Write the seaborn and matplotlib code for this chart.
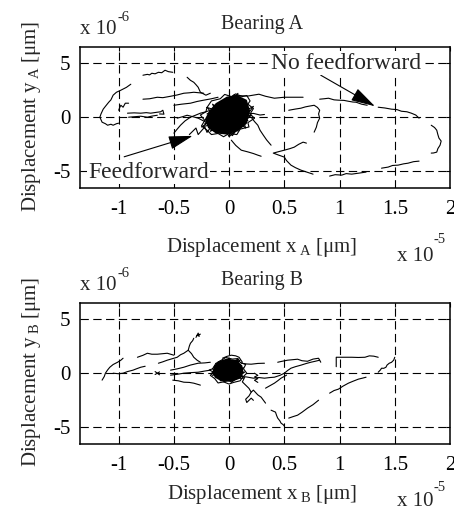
import matplotlib
matplotlib.use("Agg")
import matplotlib.pyplot as plt
import seaborn as sns
import pandas as pd

# ---------------- data (x in 1e-5, y in 1e-6) ----------------
x_ticks = [-1, -0.5, 0, 0.5, 1, 1.5, 2]
x_tick_labels = ["-1", "-0.5", "0", "0.5", "1", "1.5", "2"]
y_ticks = [-5, 0, 5]
y_tick_labels = ["-5", "0", "5"]

# Bearing A, no feedforward trace segments
bearing_a_trace = [
    [(-0.78,3.87),(-0.74,3.95),(-0.72,3.9),(-0.70,4.05),(-0.67,4.0),(-0.64,4.14),(-0.61,4.1),(-0.58,4.33),(-0.55,4.2),(-0.51,4.14)],
    [(-0.89,3.04),(-0.93,2.75),(-0.98,2.49),(-1.02,2.3),(-1.05,2.03),(-1.07,1.6),(-1.09,1.38),(-1.12,1.0),(-1.14,0.74),(-1.16,0.3),(-1.17,0.0),(-1.15,-0.46),(-1.12,-0.6),(-1.10,-0.74),(-1.07,-0.65),(-1.05,-0.74),(-1.02,-0.6),(-1.00,-0.55)],
    [(-1.0,0.64),(-0.99,0.9),(-0.98,1.1),(-0.96,0.92),(-0.94,1.29),(-0.91,1.29)],
    [(-0.92,0.37),(-0.86,0.4),(-0.80,0.37),(-0.75,0.42),(-0.71,0.37),(-0.65,0.46),(-0.62,0.5),(-0.60,0.64),(-0.59,0.28),(-0.63,0.3)],
    [(-0.91,0.0),(-0.85,0.05),(-0.80,0.09),(-0.74,0.0),(-0.70,0.1),(-0.65,0.18)],
    [(-0.78,1.66),(-0.72,1.7),(-0.65,1.84),(-0.60,1.8),(-0.53,1.93),(-0.47,2.05),(-0.41,2.21),(-0.36,2.25),(-0.32,2.30),(-0.23,2.21)],
    [(-0.38,3.68),(-0.35,3.4),(-0.32,3.22),(-0.30,3.0),(-0.28,2.76),(-0.26,2.30),(-0.21,2.03),(-0.17,2.21)],
    [(0.05,2.0),(0.17,1.95),(0.27,2.12),(0.33,1.93),(0.41,1.75),(0.50,1.84),(0.58,1.84),(0.67,1.84)],
    [(0.82,1.66),(0.86,1.7),(0.90,1.75),(0.95,1.6),(0.99,1.57),(1.04,1.55),(1.08,1.47),(1.12,1.4),(1.15,1.38),(1.2,1.2),(1.25,1.1)],
    [(1.35,0.92),(1.41,0.85),(1.47,0.74),(1.52,0.7),(1.56,0.55),(1.61,0.5),(1.65,0.37),(1.69,0.2),(1.72,-0.09)],
    [(1.83,-0.74),(1.86,-0.95),(1.88,-1.2),(1.89,-1.6),(1.90,-1.93),(1.92,-2.2),(1.91,-2.58),(1.89,-2.9),(1.88,-3.22),(1.85,-3.3),(1.83,-3.31)],
    [(1.72,-4.05),(1.67,-4.1),(1.62,-4.24),(1.58,-4.3),(1.53,-4.42),(1.48,-4.45),(1.44,-4.60),(1.41,-4.65),(1.38,-4.70)],
    [(1.24,-5.06),(1.18,-5.15),(1.11,-5.25),(1.06,-5.2),(1.02,-5.34),(0.96,-5.3),(0.91,-5.43)],
    [(0.76,-5.25),(0.70,-5.05),(0.65,-4.88),(0.60,-4.65),(0.56,-4.42),(0.52,-4.0),(0.50,-3.68),(0.45,-3.5),(0.40,-3.31),(0.44,-3.2),(0.50,-3.04),(0.55,-2.9),(0.59,-2.76),(0.63,-2.5),(0.67,-2.30),(0.70,-2.39)],
    [(0.54,0.64),(0.60,0.75),(0.65,0.83),(0.69,0.95),(0.72,1.01),(0.77,1.1),(0.80,0.9),(0.82,0.64),(0.81,0.3),(0.82,-0.09),(0.80,-0.5),(0.79,-0.92),(0.77,-1.38)],
    [(0.15,0.05),(0.20,0.0),(0.23,-0.4),(0.26,-0.74),(0.28,-1.2),(0.31,-1.66),(0.34,-2.1),(0.38,-2.58)],
    [(0.02,-2.12),(0.06,-2.6),(0.11,-3.04),(0.17,-3.2),(0.22,-3.35),(0.26,-3.5),(0.29,-3.6)],
    [(-0.50,1.1),(-0.43,1.2),(-0.35,1.29),(-0.29,1.45),(-0.23,1.57),(-0.16,1.7),(-0.10,1.84)],
    [(-0.50,-1.47),(-0.47,-1.1),(-0.44,-0.74),(-0.40,-0.35),(-0.35,0.0),(-0.30,0.2),(-0.26,0.37),(-0.21,0.5),(-0.17,0.64)],
    [(-0.47,-0.09),(-0.42,0.05),(-0.38,0.18),(-0.33,0.05),(-0.28,-0.09),(-0.24,-0.3),(-0.19,-0.55)],
    [(0.15,0.3),(0.22,0.35),(0.28,0.2),(0.32,0.25)],
    [(0.0,2.6),(0.0,1.75)],
]
# Bearing A, feedforward (dense central cluster)
bearing_a_blob_outline = [(-0.12,1.3),(-0.02,1.9),(0.08,2.0),(0.16,1.6),(0.19,0.6),(0.16,-0.6),(0.08,-1.3),(-0.02,-1.6),(-0.12,-1.5),(-0.19,-1.0),(-0.22,-0.2),(-0.18,0.6)]
bearing_a_blob_scribble = [
    [(-0.2,0.3),(0.1,1.9),(-0.1,-1.2),(0.18,0.8),(-0.22,-0.6),(0.05,2.1),(0.15,-1.0),(-0.15,1.2),(0.0,-1.8),(0.2,0.2),(-0.25,-0.9),(0.12,1.6),(-0.05,-1.5),(0.17,-0.3),(-0.2,0.9),(0.03,-1.7),(0.22,1.0),(-0.17,-1.3),(0.08,2.2),(-0.12,-0.2)],
    [(-0.36,-1.6),(-0.30,-1.0),(-0.28,-1.6),(-0.22,-0.9),(-0.20,-1.4),(-0.15,-0.7),(-0.13,-1.2)],
    [(-0.2,0.9),(-0.16,1.5),(-0.08,1.7),(-0.04,2.1),(0.02,1.9),(0.06,2.15),(0.12,1.9),(0.16,2.0),(0.19,1.5),(0.17,1.2),(0.22,0.8),(0.19,0.3),(0.23,-0.1),(0.17,-0.5),(0.18,-0.9),(0.1,-1.1),(0.07,-1.6),(0.0,-1.5),(-0.05,-1.8),(-0.1,-1.5),(-0.16,-1.6),(-0.2,-1.2),(-0.25,-0.8),(-0.22,-0.3),(-0.26,0.2),(-0.21,0.5),(-0.2,0.9)],
]

# Bearing B trace segments
bearing_b_trace = [
    [(-1.15,-0.64),(-1.13,-0.3),(-1.12,0.0),(-1.10,0.3),(-1.08,0.55),(-1.05,0.8),(-1.01,1.01),(-0.98,1.2),(-0.96,1.38)],
    [(-1.05,0.0),(-1.0,-0.05),(-0.96,0.0),(-0.92,0.15),(-0.87,0.28),(-0.84,0.4),(-0.80,0.55),(-0.76,0.64)],
    [(-0.83,1.47),(-0.78,1.65),(-0.74,1.84),(-0.70,1.75),(-0.65,1.75),(-0.60,1.8),(-0.56,1.84),(-0.50,1.66)],
    [(-0.64,0.92),(-0.60,1.05),(-0.56,1.2),(-0.51,1.35),(-0.47,1.47),(-0.44,1.7),(-0.41,1.84),(-0.37,2.12),(-0.36,2.5),(-0.35,2.76),(-0.33,3.0),(-0.32,3.22)],
    [(-0.30,3.3),(-0.28,3.7),(-0.27,3.4),(-0.29,3.5),(-0.26,3.6)],
    [(-0.37,2.12),(-0.34,1.8),(-0.32,1.47),(-0.29,1.2),(-0.26,1.01)],
    [(-0.53,0.28),(-0.47,0.4),(-0.41,0.55),(-0.35,0.75),(-0.28,0.92),(-0.22,0.95),(-0.17,1.01)],
    [(-0.67,0.15),(-0.63,-0.15)],
    [(-0.67,-0.12),(-0.63,0.12)],
    [(-0.53,-0.18),(-0.47,-0.1),(-0.41,0.0),(-0.35,0.05),(-0.28,0.09),(-0.22,0.2),(-0.17,0.28)],
    [(-0.51,-0.64),(-0.46,-0.7),(-0.41,-0.83),(-0.36,-0.85),(-0.32,-0.92),(-0.26,-1.1)],
    [(-0.06,1.38),(-0.02,1.55),(0.02,1.66),(0.06,1.6),(0.09,1.47),(0.12,1.01)],
    [(0.11,0.92),(0.16,0.85),(0.20,0.83),(0.26,0.9),(0.32,0.92)],
    [(0.44,1.01),(0.48,1.1),(0.53,1.2),(0.58,1.25),(0.62,1.29),(0.66,1.15),(0.71,1.1),(0.76,1.3),(0.81,1.38),(0.83,1.01)],
    [(0.11,-0.3),(0.16,-0.35),(0.22,-0.46),(0.27,-0.4),(0.32,-0.46),(0.37,-0.4),(0.41,-0.37),(0.46,-0.2),(0.50,0.0),(0.53,0.25),(0.56,0.46),(0.60,0.6),(0.65,0.74),(0.70,0.9),(0.74,1.01),(0.78,1.1),(0.82,1.2)],
    [(0.33,-1.38),(0.37,-1.15),(0.41,-0.92),(0.44,-0.7),(0.47,-0.46),(0.52,-0.18)],
    [(0.97,0.6),(0.97,1.47),(1.04,1.47),(1.11,1.47),(1.17,1.45),(1.23,1.47),(1.27,1.6),(1.31,1.57),(1.35,1.47)],
    [(1.35,0.09),(1.37,0.3),(1.38,0.46),(1.40,0.45),(1.42,0.55),(1.43,0.75),(1.45,0.92),(1.47,1.0),(1.49,1.2),(1.50,1.47)],
    [(0.91,-1.84),(0.95,-1.6),(0.99,-1.47),(1.03,-1.2),(1.08,-0.92),(1.12,-0.75),(1.17,-0.55),(1.21,-0.45),(1.24,-0.37)],
    [(0.54,-4.14),(0.58,-4.0),(0.62,-3.87),(0.66,-3.6),(0.71,-3.22),(0.76,-2.9),(0.81,-2.49)],
    [(0.38,-3.41),(0.42,-3.59),(0.43,-3.9),(0.44,-4.14),(0.46,-4.4),(0.47,-4.6),(0.49,-4.75),(0.50,-4.88)],
    [(0.11,-0.5),(0.14,-0.4),(0.12,-0.8),(0.15,-1.1),(0.18,-1.4),(0.20,-1.75),(0.22,-1.56),(0.26,-2.0),(0.29,-2.21),(0.33,-2.76)],
    [(0.20,-1.75),(0.18,-2.1),(0.15,-2.4),(0.16,-2.7),(0.20,-2.3),(0.22,-2.5)],
    [(0.23,0.0),(0.26,-0.2),(0.23,-0.35),(0.26,-0.5),(0.23,-0.65),(0.26,-0.85)],
]
bearing_b_blob_outline = [(-0.14,0.6),(-0.1,1.1),(-0.02,1.35),(0.07,1.2),(0.12,0.7),(0.13,0.1),(0.1,-0.5),(0.02,-0.8),(-0.07,-0.75),(-0.13,-0.4),(-0.15,0.1)]
bearing_b_blob_scribble = [
    [(-0.14,0.3),(0.10,1.2),(-0.08,-0.7),(0.13,0.5),(-0.15,-0.2),(0.0,1.4),(0.11,-0.5),(-0.12,0.9),(0.02,-0.85),(0.14,0.1),(-0.16,0.0),(0.08,1.3),(-0.05,-0.8),(0.12,-0.2),(-0.13,0.7)],
    [(-0.15,0.4),(-0.12,0.9),(-0.07,1.2),(-0.03,1.45),(0.03,1.3),(0.08,1.35),(0.1,1.0),(0.15,0.8),(0.13,0.4),(0.16,0.0),(0.12,-0.4),(0.1,-0.7),(0.04,-0.85),(0.0,-1.0),(-0.05,-0.8),(-0.1,-0.9),(-0.13,-0.5),(-0.17,-0.2),(-0.14,0.1),(-0.18,0.3),(-0.15,0.4)],
]

# annotation anchor points (data units)
arrow_nofb_tail, arrow_nofb_tip = (0.83, 3.87), (1.32, 1.01)
arrow_fb_tail, arrow_fb_tip = (-0.95, -3.65), (-0.33, -1.72)
label_nofb_pos = (0.38, 4.97)
label_fb_pos = (-1.275, -5.06)


def to_frame(segments):
    rows = []
    for i, seg in enumerate(segments):
        for k, (x, y) in enumerate(seg):
            rows.append({"seg": i, "order": k, "x": x, "y": y})
    return pd.DataFrame(rows)


# ---------------- style ----------------
sns.set_theme(style="white")
plt.rcParams["font.family"] = ["Liberation Serif", "DejaVu Serif"]
plt.rcParams["mathtext.fontset"] = "custom"
plt.rcParams["mathtext.rm"] = "Liberation Serif"
plt.rcParams["mathtext.it"] = "Liberation Serif:italic"
plt.rcParams["axes.unicode_minus"] = False

W, H = 454, 512
fig = plt.figure(figsize=(W / 100, H / 100), dpi=100)
fig.patch.set_facecolor("white")

def fx(px):
    return px / W

def fy(py):
    return 1 - py / H

ax_a = fig.add_axes([fx(80), fy(187.7), fx(450) - fx(80), fy(46.7) - fy(187.7)])
ax_b = fig.add_axes([fx(80), fy(443.7), fx(450) - fx(80), fy(302.7) - fy(443.7)])

for ax in (ax_a, ax_b):
    ax.set_facecolor("white")
    ax.set_xlim(-1.35, 2)
    ax.set_ylim(-6.5, 6.5)
    ax.set_xticks(x_ticks)
    ax.set_xticklabels(x_tick_labels)
    ax.set_yticks(y_ticks)
    ax.set_yticklabels(y_tick_labels)
    ax.tick_params(axis="both", direction="in", length=3, width=0.8, labelsize=15,
                   top=True, right=True, color="black", labelcolor="black")
    ax.tick_params(axis="x", pad=9)
    ax.tick_params(axis="y", pad=7)
    ax.grid(True, color="black", linestyle=(0, (7.5, 4)), linewidth=0.8)
    ax.set_axisbelow(True)
    for sp in ax.spines.values():
        sp.set_visible(True)
        sp.set_color("black")
        sp.set_linewidth(1.1)

# Bearing A
df = to_frame(bearing_a_trace)
sns.lineplot(data=df, x="x", y="y", units="seg", estimator=None, sort=False,
             color="black", linewidth=0.8, ax=ax_a, legend=False)
ax_a.fill([p[0] for p in bearing_a_blob_outline], [p[1] for p in bearing_a_blob_outline],
          color="black", lw=0)
df = to_frame(bearing_a_blob_scribble)
sns.lineplot(data=df, x="x", y="y", units="seg", estimator=None, sort=False,
             color="black", linewidth=0.8, ax=ax_a, legend=False)

arrow_style = dict(arrowstyle="-|>,head_length=1.5,head_width=0.42", color="black",
                   lw=0.8, shrinkA=0, shrinkB=0, mutation_scale=10)
ax_a.annotate("", xy=arrow_nofb_tip, xytext=arrow_nofb_tail, arrowprops=arrow_style, zorder=5)
ax_a.annotate("", xy=arrow_fb_tip, xytext=arrow_fb_tail, arrowprops=arrow_style, zorder=5)
ax_a.text(*label_nofb_pos, "No feedforward", fontsize=17, ha="left", va="center", zorder=6,
          bbox=dict(facecolor="white", edgecolor="none", pad=1))
ax_a.text(*label_fb_pos, "Feedforward", fontsize=17, ha="left", va="center", zorder=6,
          bbox=dict(facecolor="white", edgecolor="none", pad=1))

# Bearing B
df = to_frame(bearing_b_trace)
sns.lineplot(data=df, x="x", y="y", units="seg", estimator=None, sort=False,
             color="black", linewidth=0.8, ax=ax_b, legend=False)
ax_b.fill([p[0] for p in bearing_b_blob_outline], [p[1] for p in bearing_b_blob_outline],
          color="black", lw=0)
df = to_frame(bearing_b_blob_scribble)
sns.lineplot(data=df, x="x", y="y", units="seg", estimator=None, sort=False,
             color="black", linewidth=0.8, ax=ax_b, legend=False)

for ax in (ax_a, ax_b):
    ax.set_xlabel("")
    ax.set_ylabel("")

# ---------------- texts ----------------
for off, letter, xl_base, x10_base, sup_base in ((0, "A", 252, 261, 243), (256, "B", 499, 506, 491)):
    fig.text(fx(262), fy(29 + off), f"Bearing {letter}", fontsize=14.5, ha="center", va="baseline")
    fig.text(fx(80), fy(34 + off), "x 10", fontsize=15, ha="left", va="baseline")
    fig.text(fx(117), fy(21 + off), "-6", fontsize=10.5, ha="left", va="baseline")
    fig.text(fx(262), fy(xl_base), "Displacement x$\\,_{\\mathrm{" + letter + "}}$ [μm]",
             fontsize=15, ha="center", va="baseline")
    fig.text(fx(397), fy(x10_base), "x 10", fontsize=15, ha="left", va="baseline")
    fig.text(fx(433), fy(sup_base), "-5", fontsize=10.5, ha="left", va="baseline")
    fig.text(fx(32), fy(116 + off), "Displacement y$\\,_{\\mathrm{" + letter + "}}$ [μm]",
             fontsize=15, ha="center", va="center", rotation=90)

fig.savefig("out.png", dpi=100, facecolor="white")
